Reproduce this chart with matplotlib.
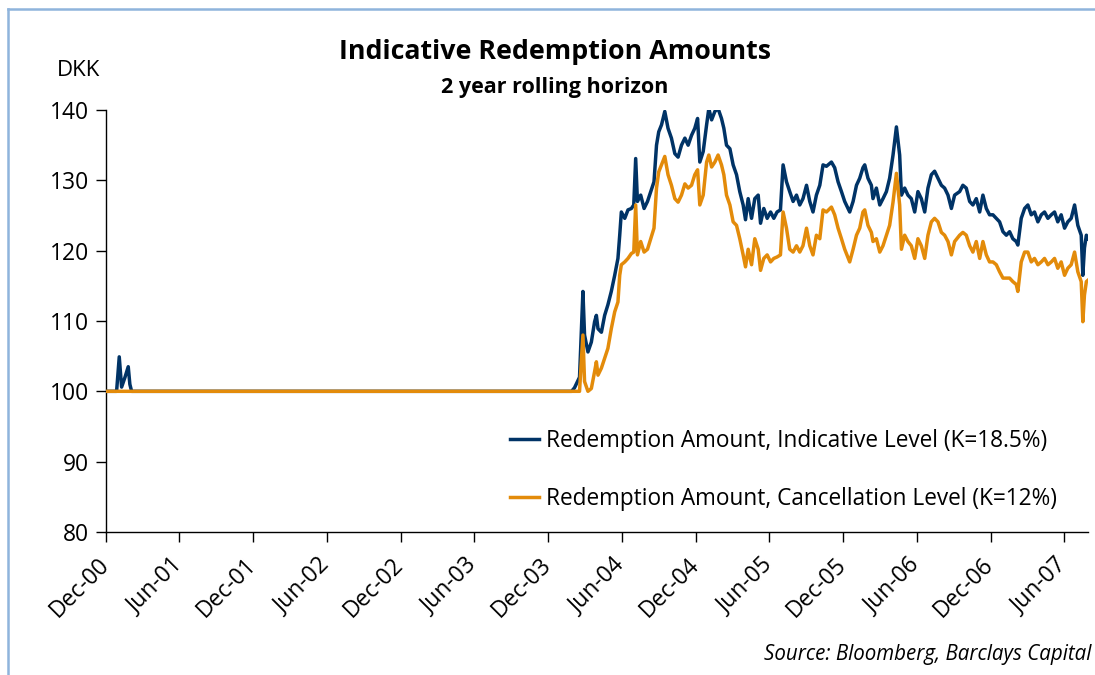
import datetime as dt
import matplotlib
matplotlib.use("Agg")
import matplotlib.pyplot as plt
import matplotlib.transforms as mtransforms
from matplotlib.lines import Line2D

plt.rcParams['font.family'] = ['Open Sans', 'DejaVu Sans']

# dates as fractional years, values in DKK
years = [
    2000.917, 2000.987, 2001.005, 2001.021, 2001.044, 2001.066, 2001.077, 2001.089,
    2004.074, 2004.094, 2004.128, 2004.151, 2004.162, 2004.185, 2004.208, 2004.230,
    2004.242, 2004.253, 2004.276, 2004.298, 2004.320, 2004.343, 2004.366, 2004.388,
    2004.400, 2004.411, 2004.434, 2004.456, 2004.479, 2004.495, 2004.508, 2004.520,
    2004.542, 2004.565, 2004.588, 2004.610, 2004.632, 2004.649, 2004.664, 2004.683,
    2004.705, 2004.727, 2004.750, 2004.773, 2004.795, 2004.818, 2004.841, 2004.863,
    2004.886, 2004.908, 2004.927, 2004.942, 2004.965, 2004.988, 2005.003, 2005.022,
    2005.044, 2005.066, 2005.089, 2005.105, 2005.123, 2005.146, 2005.168, 2005.191,
    2005.213, 2005.236, 2005.252, 2005.270, 2005.293, 2005.315, 2005.338, 2005.354,
    2005.376, 2005.399, 2005.422, 2005.444, 2005.466, 2005.489, 2005.507, 2005.530,
    2005.552, 2005.575, 2005.598, 2005.620, 2005.642, 2005.666, 2005.688, 2005.710,
    2005.733, 2005.756, 2005.778, 2005.801, 2005.835, 2005.857, 2005.880, 2005.903,
    2005.925, 2005.959, 2005.982, 2006.005, 2006.027, 2006.049, 2006.061, 2006.083,
    2006.106, 2006.117, 2006.140, 2006.163, 2006.185, 2006.208, 2006.230, 2006.253,
    2006.276, 2006.298, 2006.310, 2006.332, 2006.354, 2006.377, 2006.400, 2006.422,
    2006.445, 2006.468, 2006.490, 2006.513, 2006.535, 2006.558, 2006.581, 2006.603,
    2006.626, 2006.649, 2006.671, 2006.705, 2006.727, 2006.750, 2006.773, 2006.795,
    2006.818, 2006.841, 2006.863, 2006.886, 2006.908, 2006.931, 2006.954, 2006.976,
    2006.999, 2007.022, 2007.044, 2007.066, 2007.089, 2007.100, 2007.123, 2007.146,
    2007.168, 2007.191, 2007.213, 2007.236, 2007.259, 2007.281, 2007.304, 2007.327,
    2007.349, 2007.371, 2007.394, 2007.417, 2007.439, 2007.462, 2007.485, 2007.507,
    2007.530, 2007.541, 2007.552, 2007.565, 2007.576,
]

indicative = [
    100.0, 100.0, 104.9, 100.6, 102.0, 103.5, 101.0, 100.0,
    100.0, 100.5, 102.0, 114.2, 108.0, 105.6, 107.0, 109.9,
    110.8, 108.9, 108.4, 110.8, 112.3, 114.2, 116.5, 118.9,
    122.2, 125.5, 124.6, 125.8, 126.0, 126.5, 133.1, 127.0,
    127.9, 126.0, 127.0, 128.4, 129.8, 135.0, 136.9, 137.9,
    139.8, 137.4, 136.0, 133.8, 133.3, 135.0, 136.0, 135.0,
    136.4, 137.4, 138.8, 132.6, 134.1, 137.9, 140.2, 138.6,
    139.8, 140.2, 138.8, 137.4, 135.0, 134.5, 132.2, 130.8,
    128.4, 126.5, 124.4, 127.4, 124.6, 127.4, 127.9, 123.9,
    126.0, 124.6, 125.5, 124.6, 125.5, 125.8, 132.2, 129.8,
    128.4, 127.0, 127.9, 126.5, 127.4, 129.3, 127.0, 125.5,
    127.9, 129.3, 132.2, 132.0, 132.6, 131.8, 129.8, 128.4,
    127.0, 125.5, 127.0, 129.3, 130.3, 131.8, 132.2, 130.3,
    129.3, 127.4, 128.9, 126.5, 127.4, 128.4, 130.3, 133.6,
    137.6, 133.6, 127.9, 128.9, 127.9, 127.4, 125.5, 128.4,
    127.4, 125.5, 128.9, 130.8, 131.3, 130.3, 129.3, 128.9,
    127.9, 126.0, 127.9, 128.4, 129.3, 128.9, 127.0, 126.5,
    127.4, 125.5, 127.9, 126.0, 125.1, 125.1, 124.6, 124.1,
    122.7, 122.2, 122.7, 121.7, 121.3, 120.8, 124.6, 126.0,
    126.5, 125.1, 125.5, 124.1, 125.1, 125.5, 124.6, 125.1,
    125.5, 124.1, 125.1, 123.2, 124.1, 124.6, 126.5, 123.6,
    122.2, 116.5, 120.4, 122.2, 121.7,
]

cancellation = [
    100.0, 100.0, 100.0, 100.0, 100.0, 100.0, 100.0, 100.0,
    100.0, 100.0, 100.0, 108.0, 101.4, 100.0, 100.4, 102.8,
    104.2, 102.3, 103.3, 104.7, 106.1, 108.9, 111.3, 112.7,
    116.5, 118.0, 118.4, 118.9, 119.6, 119.8, 126.5, 119.4,
    121.3, 119.8, 120.2, 121.7, 123.2, 128.9, 131.2, 132.2,
    133.4, 130.8, 129.3, 127.4, 126.9, 127.9, 129.5, 128.9,
    129.3, 130.8, 131.5, 126.5, 127.9, 132.6, 133.6, 131.9,
    132.6, 133.6, 132.2, 130.8, 127.9, 126.5, 124.1, 123.6,
    121.7, 119.4, 117.7, 120.2, 118.0, 121.7, 120.2, 117.2,
    118.9, 119.4, 118.4, 118.9, 119.1, 119.4, 125.5, 123.2,
    120.2, 119.8, 120.7, 119.8, 120.7, 123.2, 120.7, 119.4,
    122.2, 121.7, 125.8, 125.5, 126.2, 125.1, 123.2, 121.7,
    120.2, 118.4, 120.2, 122.2, 123.2, 125.5, 125.8, 123.6,
    122.6, 121.3, 121.7, 119.8, 120.7, 122.2, 123.6, 126.9,
    131.0, 126.5, 120.2, 122.2, 121.3, 120.7, 118.9, 121.7,
    120.7, 118.9, 122.2, 124.1, 124.6, 124.1, 122.6, 122.2,
    121.3, 119.4, 121.3, 122.2, 122.6, 122.2, 120.7, 119.8,
    121.3, 118.9, 121.3, 119.4, 118.4, 118.4, 118.0, 117.0,
    116.1, 116.1, 116.1, 115.6, 115.2, 114.2, 118.4, 119.8,
    119.8, 118.4, 118.9, 118.0, 118.4, 118.9, 118.0, 118.4,
    118.9, 117.5, 118.4, 116.5, 117.5, 118.0, 119.8, 117.0,
    115.6, 109.9, 113.7, 115.6, 115.8,
]

tick_labels = ['Dec-00', 'Jun-01', 'Dec-01', 'Jun-02', 'Dec-02', 'Jun-03', 'Dec-03',
               'Jun-04', 'Dec-04', 'Jun-05', 'Dec-05', 'Jun-06', 'Dec-06', 'Jun-07']


def to_date(y):
    yr = int(y)
    start = dt.datetime(yr, 1, 1)
    days = (dt.datetime(yr + 1, 1, 1) - start).days
    return start + dt.timedelta(days=(y - yr) * days)


dates = [to_date(y) for y in years]
tick_dates = [dt.datetime(2000 + (i + 1) // 2, 12 if i % 2 == 0 else 6, 1)
              for i in range(len(tick_labels))]

blue = '#003366'
orange = '#E38B0A'

fig = plt.figure(figsize=(10.95, 6.75), dpi=100)
ax = fig.add_axes([0.0968, 0.2119, 0.8968, 0.6251])

ax.plot(dates, indicative, color=blue, lw=2.5, zorder=3,
        label='Redemption Amount, Indicative Level (K=18.5%)')
ax.plot(dates, cancellation, color=orange, lw=2.5, zorder=4,
        label='Redemption Amount, Cancellation Level (K=12%)')

ax.set_ylim(80, 140)
ax.set_yticks(range(80, 141, 10))
ax.set_xlim(dt.datetime(2000, 12, 1), to_date(2007.576))
ax.set_xticks(tick_dates)
ax.set_xticklabels(tick_labels, rotation=45, ha='right', rotation_mode='anchor')

for s in ['top', 'right']:
    ax.spines[s].set_visible(False)
for s in ['left', 'bottom']:
    ax.spines[s].set_linewidth(1.0)
ax.tick_params(axis='both', direction='out', length=7, width=1.0,
               labelsize=16.5, pad=5)
ax.tick_params(axis='x', pad=8)

# nudge the rotated date labels a little to the left, like the original
shift = mtransforms.ScaledTranslation(-9 / 100, 0, fig.dpi_scale_trans)
for lbl in ax.get_xticklabels():
    lbl.set_transform(lbl.get_transform() + shift)

leg = ax.legend(loc='upper left', bbox_to_anchor=(0.402, 0.265), frameon=False,
                fontsize=16.3, handlelength=1.3, handletextpad=0.3,
                labelspacing=1.5, borderaxespad=0)

fig.text(0.507, 0.923, 'Indicative Redemption Amounts', ha='center', va='center',
         fontsize=19.3, fontweight='bold')
fig.text(0.507, 0.871, '2 year rolling horizon', ha='center', va='center',
         fontsize=15.5, fontweight='bold')
fig.text(0.072, 0.896, 'DKK', ha='center', va='center', fontsize=16)
fig.text(0.997, 0.03, 'Source: Bloomberg, Barclays Capital', ha='right', va='center',
         fontsize=14.8, style='italic')

# light blue frame on top and left
frame_c = '#8FB4DC'
fig.add_artist(Line2D([0.0075, 1.0], [0.9867, 0.9867], color=frame_c, lw=1.8,
                      transform=fig.transFigure))
fig.add_artist(Line2D([0.0075, 0.0075], [0.0, 0.9867], color=frame_c, lw=1.8,
                      transform=fig.transFigure))

fig.savefig('out.png', dpi=100)
